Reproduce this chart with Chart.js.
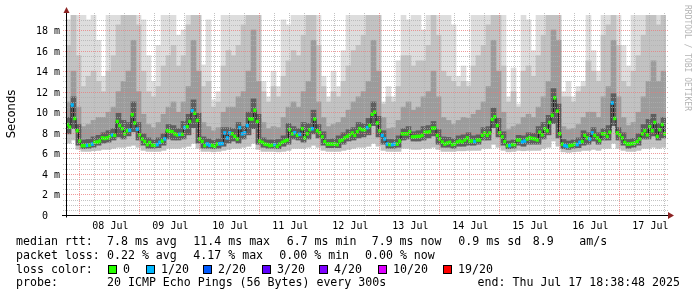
<!DOCTYPE html>
<html>
<head>
<meta charset="utf-8">
<script src="https://cdn.jsdelivr.net/npm/chart.js@4.4.1/dist/chart.umd.min.js"></script>
<style>
  html, body { margin: 0; padding: 0; background: #fff; }
  canvas { display: block; }
</style>
</head>
<body>
<canvas id="myChart" width="697" height="297"></canvas>
<script>
// day tick labels, each centred on noon of that day
const dayLabels = ['08 Jul', '09 Jul', '10 Jul', '11 Jul', '12 Jul', '13 Jul', '14 Jul', '15 Jul', '16 Jul', '17 Jul'];
const yTickValues = [0, 2, 4, 6, 8, 10, 12, 14, 16, 18];
const yTickLabels = ['0  ', '2 m', '4 m', '6 m', '8 m', '10 m', '12 m', '14 m', '16 m', '18 m'];

// median rtt (ms), one value per hour, starting Jul 7 18:38
const medianMs = [
    8.8, 8.55, 10.7, 9.4, 8.2, 7.2, 6.75, 6.75, 6.78, 6.8,
    6.9, 7.07, 7.1, 7.2, 7.5, 7.45, 7.5, 7.65, 7.8, 7.75,
    9.1, 8.7, 8.4, 7.9, 8.2, 8.25, 9.75, 8.95, 8.35, 7.8,
    7.4, 7.15, 6.85, 7.05, 6.8, 6.78, 6.85, 7.07, 7.2, 7.4,
    8.2, 8.15, 8.1, 7.9, 7.8, 7.85, 7.85, 8.5, 8.6, 9.1,
    10.15, 9.9, 9.2, 7.4, 7.15, 6.75, 6.9, 6.78, 6.78, 6.68,
    6.9, 6.93, 6.95, 7.98, 7.5, 7.98, 7.9, 7.65, 7.4, 8.5,
    7.9, 8.0, 8.7, 9.35, 9.35, 10.2, 9.1, 7.2, 7.07, 6.9,
    6.85, 6.75, 6.8, 6.85, 6.68, 6.9, 7.07, 7.2, 7.3, 8.3,
    7.9, 8.0, 7.75, 7.85, 8.4, 7.5, 7.9, 8.3, 8.4, 9.35,
    8.2, 8.0, 7.6, 7.15, 6.9, 6.9, 6.9, 6.9, 6.85, 7.2,
    7.3, 7.5, 7.65, 7.8, 7.98, 7.75, 8.1, 8.4, 8.3, 8.3,
    8.5, 8.7, 9.8, 10.0, 8.95, 8.2, 7.75, 7.4, 6.9, 6.85,
    6.85, 6.9, 6.9, 7.2, 7.9, 7.9, 7.9, 8.1, 7.6, 7.6,
    7.65, 7.65, 7.75, 8.05, 8.05, 8.1, 8.45, 8.45, 7.75, 7.4,
    7.1, 6.9, 7.0, 7.07, 6.85, 6.9, 7.1, 7.2, 7.1, 7.3,
    7.5, 7.2, 7.2, 7.15, 7.3, 7.3, 7.75, 7.98, 7.75, 7.98,
    9.3, 9.55, 8.7, 8.0, 7.6, 7.15, 6.75, 6.75, 6.85, 6.85,
    7.3, 7.3, 7.1, 7.2, 7.4, 7.5, 7.45, 7.4, 7.3, 8.05,
    7.8, 8.4, 8.2, 9.0, 9.7, 11.4, 10.1, 7.9, 6.9, 6.75,
    6.68, 6.75, 6.8, 6.9, 6.85, 7.07, 7.15, 7.75, 7.5, 7.4,
    7.98, 7.75, 7.5, 7.25, 7.9, 7.9, 7.65, 8.05, 10.9, 9.4,
    7.98, 7.8, 7.5, 7.07, 6.9, 6.9, 6.95, 7.0, 7.15, 7.4,
    7.9, 8.2, 7.8, 8.6, 8.2, 9.0, 7.65, 8.3, 8.8, 7.9
];

// lost pings out of 20, per hour
const lossCount = [
    0, 0, 1, 0, 0, 0, 0, 0, 1, 0, 1, 0, 0, 0, 0, 0, 0, 0, 1, 0,
    0, 0, 0, 0, 0, 1, 0, 0, 1, 0, 0, 0, 0, 0, 0, 0, 1, 1, 0, 1,
    0, 0, 0, 0, 0, 1, 0, 1, 0, 0, 1, 0, 0, 0, 0, 0, 1, 1, 0, 0,
    0, 1, 1, 1, 1, 1, 0, 0, 0, 1, 1, 1, 1, 0, 0, 0, 0, 0, 0, 0,
    0, 0, 0, 1, 0, 0, 0, 0, 0, 0, 0, 1, 0, 1, 0, 0, 0, 0, 1, 0,
    0, 0, 0, 0, 0, 0, 0, 0, 0, 0, 0, 0, 0, 0, 0, 0, 0, 0, 0, 0,
    1, 0, 0, 0, 0, 0, 1, 1, 1, 0, 1, 1, 0, 0, 0, 0, 0, 0, 0, 0,
    0, 0, 0, 0, 0, 0, 0, 0, 0, 0, 0, 0, 0, 0, 0, 0, 0, 0, 0, 0,
    0, 0, 0, 1, 0, 0, 0, 0, 0, 0, 0, 0, 0, 0, 0, 0, 0, 1, 0, 0,
    0, 0, 1, 1, 0, 0, 0, 0, 0, 0, 0, 0, 0, 0, 0, 0, 0, 0, 0, 1,
    1, 0, 0, 0, 1, 1, 0, 0, 0, 1, 1, 0, 0, 0, 0, 0, 0, 0, 1, 0,
    0, 0, 0, 0, 0, 0, 0, 0, 0, 0, 0, 0, 0, 0, 0, 0, 0, 0, 0, 0
];

// smoke: spread of the 20 pings, one value per 2 hours (ms)
const smokeMin = [
    7.0, 7.3, 6.4, 6.2, 6.2, 6.25, 6.3, 6.4, 6.4, 6.5,
    6.6, 6.6, 6.7, 6.8, 6.6, 6.3, 6.2, 6.2, 6.2, 6.3,
    6.5, 6.5, 6.5, 6.6, 6.7, 7.0, 6.5, 6.2, 6.2, 6.15,
    6.2, 6.3, 6.4, 6.5, 6.5, 6.6, 6.7, 7.0, 6.4, 6.2,
    6.2, 6.2, 6.15, 6.2, 6.3, 6.5, 6.5, 6.5, 6.6, 6.8,
    6.6, 6.3, 6.2, 6.2, 6.2, 6.3, 6.4, 6.5, 6.6, 6.6,
    6.7, 7.0, 6.7, 6.3, 6.2, 6.2, 6.2, 6.5, 6.5, 6.4,
    6.4, 6.5, 6.5, 6.6, 6.4, 6.2, 6.2, 6.2, 6.25, 6.25,
    6.3, 6.3, 6.3, 6.5, 6.5, 6.9, 6.6, 6.3, 6.15, 6.2,
    6.3, 6.25, 6.3, 6.3, 6.3, 6.5, 6.6, 7.2, 6.7, 6.15,
    6.1, 6.15, 6.2, 6.3, 6.3, 6.4, 6.3, 6.5, 6.5, 7.0,
    6.5, 6.3, 6.2, 6.2, 6.3, 6.5, 6.5, 6.6, 6.5, 6.6
];
const smokeLow = [
    7.9, 8.4, 6.8, 6.45, 6.5, 6.6, 6.8, 7.0, 7.1, 7.3,
    7.6, 7.4, 7.7, 8.1, 7.3, 6.8, 6.5, 6.5, 6.55, 6.8,
    7.4, 7.3, 7.3, 7.4, 7.8, 8.5, 7.0, 6.5, 6.5, 6.45,
    6.5, 6.7, 7.0, 7.2, 7.0, 7.4, 7.8, 8.4, 6.9, 6.6,
    6.5, 6.5, 6.45, 6.7, 6.9, 7.4, 7.3, 7.1, 7.4, 7.9,
    7.5, 6.8, 6.55, 6.55, 6.55, 6.9, 7.2, 7.3, 7.5, 7.6,
    7.8, 8.7, 7.6, 6.9, 6.5, 6.5, 6.6, 7.3, 7.4, 7.2,
    7.2, 7.3, 7.5, 7.7, 6.9, 6.6, 6.6, 6.5, 6.7, 6.7,
    6.8, 6.8, 6.9, 7.3, 7.3, 8.5, 7.6, 6.8, 6.45, 6.5,
    6.8, 6.7, 6.9, 6.9, 6.9, 7.4, 7.8, 8.9, 7.5, 6.45,
    6.4, 6.5, 6.55, 6.8, 6.9, 7.2, 6.9, 7.3, 7.3, 8.7,
    7.3, 6.8, 6.5, 6.6, 6.8, 7.4, 7.4, 7.7, 7.3, 7.5
];
const smokeDark = [
    9.5, 11.5, 8.8, 7.3, 7.35, 7.6, 7.75, 8.0, 8.2, 8.4,
    9.9, 9.2, 9.0, 11.0, 9.0, 7.9, 7.5, 7.3, 7.5, 7.9,
    8.8, 8.7, 8.4, 9.1, 9.8, 11.2, 9.9, 7.6, 7.4, 7.25,
    7.4, 8.5, 8.5, 8.4, 9.0, 8.6, 10.0, 11.3, 9.8, 7.5,
    7.3, 7.3, 7.35, 7.7, 8.9, 8.6, 8.4, 9.0, 8.9, 10.2,
    8.8, 8.1, 7.35, 7.4, 7.7, 8.0, 8.3, 8.5, 9.0, 8.9,
    9.4, 11.0, 9.6, 8.2, 7.35, 7.35, 7.7, 8.4, 8.6, 8.1,
    8.2, 8.6, 8.7, 9.1, 8.3, 7.6, 7.55, 7.4, 7.7, 7.8,
    8.0, 7.7, 7.8, 8.5, 8.6, 10.4, 9.4, 8.1, 7.2, 7.3,
    7.75, 7.7, 8.0, 7.95, 8.6, 9.0, 9.7, 12.3, 10.8, 7.35,
    7.2, 7.3, 7.5, 8.2, 8.0, 8.5, 8.0, 8.4, 8.7, 11.8,
    8.5, 8.0, 7.35, 7.45, 7.9, 8.8, 9.3, 9.8, 8.9, 9.5
];
const smokeMid = [
    11, 14, 10.5, 8.6, 8.8, 9.2, 9.5, 9.5, 10, 10.5,
    12, 13, 14, 17, 12, 9.8, 8.8, 8.5, 9, 9.8,
    10.5, 11, 10, 11, 12.5, 17, 14, 9, 8.6, 8.2,
    8.5, 10, 10.5, 10.5, 11.5, 12, 14, 18, 13, 9,
    8.4, 8.6, 8.5, 9.5, 10.5, 11, 10.5, 12, 13, 17,
    11, 9.5, 8.6, 8.8, 9, 9.5, 10.2, 11, 11.5, 12,
    13, 17, 14, 9.5, 8.4, 8.5, 9.2, 10.5, 11, 10.2,
    10.5, 11.5, 12, 14, 11.5, 9.5, 9.2, 8.8, 9.2, 9.5,
    9.4, 9.8, 10.2, 11, 12.5, 17, 14, 10, 8.3, 8.6,
    8.8, 9.5, 9.8, 9.5, 10.5, 11.5, 13, 18, 17, 8.6,
    8.3, 8.4, 8.8, 9.5, 10, 10, 9.5, 11.5, 12.5, 17,
    11.5, 9.5, 8.7, 9, 10, 11.5, 13, 15, 13, 14
];
const smokeHigh = [
    16.5, 20, 15.5, 12.5, 13.5, 14, 13, 12, 14, 15.5,
    18.5, 19.5, 20, 20, 18.5, 14, 12, 11.5, 12.5, 14.5,
    15.5, 16.5, 14.5, 15.5, 18.5, 20, 20, 12.5, 13, 10.5,
    11, 14.5, 16, 15.5, 16.5, 18.5, 20, 20, 19.5, 12,
    11, 12.5, 11.5, 13.5, 15, 16, 15.5, 17.5, 19.5, 20,
    16.5, 12.5, 11, 12, 11.5, 13, 14.5, 16, 16.5, 17.5,
    19.5, 20, 20, 10.8, 11.5, 11, 12.5, 15.5, 15.5, 14.5,
    15, 15, 16.5, 19.5, 17.5, 14, 13.5, 13, 12.5, 13,
    12.5, 14.5, 15.5, 16.5, 18.5, 20, 20, 14.5, 11, 12,
    10.5, 14, 14.5, 13.5, 15.5, 17.5, 19.5, 20, 20, 11.5,
    11.5, 11, 12, 12.5, 15, 14, 13, 17.5, 18.5, 20,
    16.5, 13, 12.5, 14, 15.5, 17.5, 19.5, 20, 18.5, 19.5
];
const smokeMax = [
    19, 20, 20, 20, 19, 20, 17, 13.5, 20, 20,
    20, 20, 20, 20, 20, 19, 15.5, 13, 16.5, 20,
    20, 20, 17.5, 18, 20, 20, 20, 14.6, 19, 11.2,
    12, 20, 20, 20, 20, 20, 20, 20, 20, 13,
    11.5, 14, 12.5, 19, 18.5, 20, 20, 20, 20, 20,
    20, 13.5, 11.5, 14, 12.5, 16, 20, 20, 20, 20,
    20, 20, 20, 11, 12.5, 11.5, 15, 20, 19, 20,
    20, 18, 20, 20, 20, 19.5, 20, 18.5, 13.5, 14.5,
    13, 20, 20, 20, 20, 20, 20, 20, 11.5, 14.3,
    10.8, 20, 19, 16, 20, 20, 20, 20, 20, 12,
    13, 11.5, 12.5, 13, 20, 16, 14, 20, 20, 20,
    20, 16.5, 14.5, 20, 20, 20, 20, 20, 20, 20
];

// loss colour legend
const lossLevels = [0, 1, 2, 3, 4, 10, 19];
const lossNames = ['0', '1/20', '2/20', '3/20', '4/20', '10/20', '19/20'];
const lossColors = ['#26ff00', '#00b8ff', '#0059ff', '#5e00ff', '#7e00ff', '#dd00ff', '#ff0000'];

const rttStats = ['7.8 ms avg', '11.4 ms max', '6.7 ms min', '7.9 ms now', '0.9 ms sd', '8.9', 'am/s'];
const lossStats = ['0.22 % avg', '4.17 % max', '0.00 % min', '0.00 % now'];
const probeText = '20 ICMP Echo Pings (56 Bytes) every 300s';
const endText = 'end: Thu Jul 17 18:38:48 2025';

const hoursShown = 240;
const firstMidnight = 24 - (18 + 38 / 60 + 48 / 3600); // hours from start to Jul 8 00:00

function colorForLoss(n) {
    let c = lossColors[0];
    lossLevels.forEach((lv, i) => { if (n >= lv) c = lossColors[i]; });
    return c;
}

// hour offset -> pixel, through the hourly category axis
function hourToPx(chart, h) {
    return chart.scales.x.getPixelForValue(h - 0.5);
}

const mono = '"DejaVu Sans Mono", "Liberation Mono", monospace';

const rrdDecor = {
    id: 'rrdDecor',
    beforeDraw(chart) {
        const ctx = chart.ctx;
        ctx.save();
        ctx.fillStyle = '#ffffff';
        ctx.fillRect(0, 0, chart.width, chart.height);
        ctx.restore();
    },
    afterDatasetsDraw(chart) {
        const ctx = chart.ctx;
        const ys = chart.scales.y;
        const area = chart.chartArea;
        ctx.save();
        ctx.lineWidth = 1;
        ctx.setLineDash([1, 1]);

        // minor grid
        ctx.strokeStyle = 'rgba(175,175,175,0.75)';
        ctx.beginPath();
        for (let v = 0.5; v < ys.max; v += 0.5) {
            if (v % 2 === 0) continue;
            const py = Math.round(ys.getPixelForValue(v)) + 0.5;
            ctx.moveTo(area.left - 3, py);
            ctx.lineTo(area.right + 3, py);
        }
        for (let h = firstMidnight - 24; h <= hoursShown; h += 6) {
            if (h <= 0) continue;
            if (Math.abs((h - firstMidnight) % 24) < 0.01) continue;
            const px = Math.round(hourToPx(chart, h)) + 0.5;
            ctx.moveTo(px, area.top - 2);
            ctx.lineTo(px, area.bottom + 2);
        }
        ctx.stroke();

        // major grid
        ctx.strokeStyle = 'rgba(235,120,120,0.75)';
        ctx.beginPath();
        for (let v = 2; v < ys.max; v += 2) {
            const py = Math.round(ys.getPixelForValue(v)) + 0.5;
            ctx.moveTo(area.left - 3, py);
            ctx.lineTo(area.right + 3, py);
        }
        for (let h = firstMidnight; h <= hoursShown; h += 24) {
            const px = Math.round(hourToPx(chart, h)) + 0.5;
            ctx.moveTo(px, area.top - 2);
            ctx.lineTo(px, area.bottom + 2);
        }
        ctx.stroke();
        ctx.setLineDash([]);

        // axes
        const y0 = Math.round(ys.getPixelForValue(0)) + 0.5;
        ctx.strokeStyle = '#000000';
        ctx.beginPath();
        ctx.moveTo(area.left - 4, y0);
        ctx.lineTo(area.right + 3, y0);
        ctx.moveTo(area.left + 0.5, y0 + 2);
        ctx.lineTo(area.left + 0.5, area.top - 3);
        ctx.stroke();

        // arrows
        ctx.fillStyle = '#8c2323';
        ctx.beginPath();
        ctx.moveTo(area.left - 2.5, area.top - 2);
        ctx.lineTo(area.left + 3.5, area.top - 2);
        ctx.lineTo(area.left + 0.5, area.top - 8);
        ctx.closePath();
        ctx.fill();
        ctx.beginPath();
        ctx.moveTo(area.right + 2, y0 - 3.5);
        ctx.lineTo(area.right + 2, y0 + 3.5);
        ctx.lineTo(area.right + 8, y0);
        ctx.closePath();
        ctx.fill();
        ctx.restore();
    },
    afterDraw(chart) {
        const ctx = chart.ctx;
        const ys = chart.scales.y;
        ctx.save();
        ctx.fillStyle = '#000000';

        // y tick labels
        ctx.font = '10px ' + mono;
        ctx.textAlign = 'right';
        ctx.textBaseline = 'alphabetic';
        yTickValues.forEach((v, i) => {
            ctx.fillText(yTickLabels[i], 60, Math.round(ys.getPixelForValue(v)) + 3.8);
        });

        // x tick labels
        ctx.textAlign = 'center';
        dayLabels.forEach((lbl, i) => {
            ctx.fillText(lbl, hourToPx(chart, firstMidnight + 12 + 24 * i) + 1, 228.5);
        });

        // y title
        ctx.save();
        ctx.translate(14.5, 114);
        ctx.rotate(-Math.PI / 2);
        ctx.font = '11.6px "DejaVu Sans", sans-serif';
        ctx.textAlign = 'center';
        ctx.textBaseline = 'alphabetic';
        ctx.fillText('Seconds', 0, 0);
        ctx.restore();

        // watermark
        ctx.save();
        ctx.translate(685, 5);
        ctx.rotate(Math.PI / 2);
        ctx.font = '8px ' + mono;
        ctx.fillStyle = '#b4b4b4';
        ctx.textAlign = 'left';
        ctx.textBaseline = 'alphabetic';
        ctx.fillText('RRDTOOL / TOBI OETIKER', 0, 0);
        ctx.restore();

        // legend
        ctx.font = '11.6px ' + mono;
        ctx.textAlign = 'left';
        const rttX = [107, 193.3, 286.7, 371.7, 458.3, 532.7, 579.3];
        ctx.fillText('median rtt:', 16, 245);
        rttStats.forEach((s, i) => ctx.fillText(s, rttX[i], 245));
        const lossX = [107, 193.3, 279.3, 365];
        ctx.fillText('packet loss:', 16, 258.5);
        lossStats.forEach((s, i) => ctx.fillText(s, lossX[i], 258.5));
        ctx.fillText('loss color:', 16, 272.5);
        const boxX = [108, 146, 203, 262, 319, 378, 443];
        lossNames.forEach((n, i) => {
            ctx.fillStyle = lossColors[i];
            ctx.fillRect(boxX[i], 265, 8, 8);
            ctx.strokeStyle = '#000000';
            ctx.lineWidth = 1;
            ctx.strokeRect(boxX[i] + 0.5, 265.5, 8, 8);
            ctx.fillStyle = '#000000';
            ctx.fillText(n, boxX[i] + 15, 272.5);
        });
        ctx.fillText('probe:', 16, 286);
        ctx.fillText(probeText, 107, 286);
        ctx.textAlign = 'right';
        ctx.fillText(endText, 680, 286);
        ctx.restore();
    }
};

const hourLabels = medianMs.map((v, i) => i);
const binLabels = smokeMax.map((v, i) => i);

function smokeBand(low, high, color, order) {
    return {
        type: 'bar',
        xAxisID: 'xs',
        yAxisID: 'y',
        data: high.map((h, i) => [low[i], h]),
        backgroundColor: color,
        borderWidth: 0,
        barPercentage: 1,
        categoryPercentage: 1,
        grouped: false,
        clip: 0,
        order: order
    };
}

const ctx = document.getElementById('myChart').getContext('2d');
const myChart = new Chart(ctx, {         //eslint-disable-line
    type: 'bar',
    data: {
        labels: hourLabels,
        datasets: [
            {
                type: 'bar',
                xAxisID: 'x',
                yAxisID: 'y',
                data: medianMs.map(m => [m - 0.14, m + 0.14]),
                backgroundColor: lossCount.map(colorForLoss),
                borderWidth: 0,
                barPercentage: 1,
                categoryPercentage: 1,
                grouped: false,
                order: 0
            },
            {
                type: 'line',
                xAxisID: 'x',
                yAxisID: 'y',
                data: medianMs,
                borderColor: '#202020',
                borderWidth: 1,
                stepped: 'middle',
                pointRadius: 0,
                fill: false,
                order: 1
            },
            smokeBand(smokeLow, smokeDark, '#5e5e5e', 2),
            smokeBand(smokeLow, smokeMid, '#9c9c9c', 3),
            smokeBand(smokeMin, smokeHigh, '#c2c2c2', 4),
            smokeBand(smokeMin, smokeMax, '#dddddd', 5)
        ]
    },
    options: {
        responsive: false,
        animation: false,
        devicePixelRatio: 1,
        events: [],
        layout: { padding: { left: 66, right: 31, top: 15, bottom: 82 } },
        plugins: { legend: { display: false }, tooltip: { enabled: false } },
        scales: {
            x: { type: 'category', display: false, offset: true },
            xs: { type: 'category', labels: binLabels, display: false, offset: true },
            y: { type: 'linear', min: 0, max: 19.46, display: false }
        }
    },
    plugins: [rrdDecor]
});
</script>
</body>
</html>
